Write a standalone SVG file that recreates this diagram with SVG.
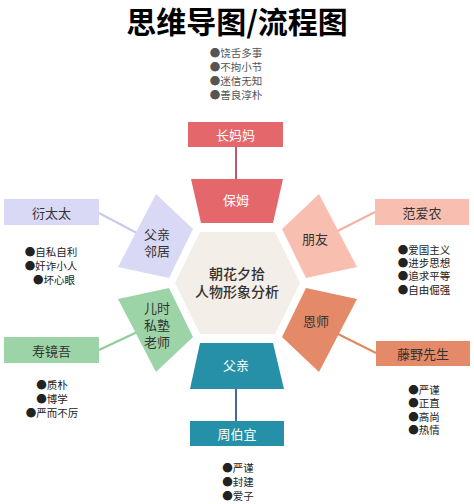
<svg xmlns="http://www.w3.org/2000/svg" width="474" height="504" viewBox="0 0 474 504">
<style>
text{font-family:"Noto Sans CJK SC","Noto Sans",sans-serif;text-anchor:middle;dominant-baseline:central}
.title{font-size:30px;font-weight:700;fill:#000}
.lbl{font-size:13px;fill:#333}
.wl{font-size:13px;fill:#fff}
.ctr{font-size:14px;fill:#333;font-weight:500}
.li{font-size:10.5px;fill:#222}
.lt{font-size:10.5px;fill:#555}
.con{fill:none;stroke-width:2}
</style>
<rect width="474" height="504" fill="#fff"/>
<text class="title" x="237" y="20">思维导图/流程图</text>
<g id="top-list">
<text class="lt" x="236" y="52">●饶舌多事</text>
<text class="lt" x="236" y="66">●不拘小节</text>
<text class="lt" x="236" y="80">●迷信无知</text>
<text class="lt" x="236" y="94">●善良淳朴</text>
</g>
<g id="connectors">
<line class="con" x1="236" y1="147" x2="236" y2="180" stroke="#b85a68"/>
<line class="con" x1="236" y1="388" x2="236" y2="421" stroke="#4c62b4"/>
<line class="con" x1="99" y1="213" x2="150" y2="240" stroke="#c9c9ec"/>
<line class="con" x1="99" y1="350" x2="150" y2="326" stroke="#8fcc9a"/>
<line class="con" x1="375" y1="212" x2="320" y2="240" stroke="#f2b2a2"/>
<line class="con" x1="376" y1="353" x2="320" y2="325" stroke="#e0875f"/>
</g>
<g id="center">
<polygon points="175,283 200,232 275,232 300,283 275,334 200,334" fill="#f3eee7"/>
<text class="ctr" x="237" y="273">朝花夕拾</text>
<text class="ctr" x="237" y="291">人物形象分析</text>
</g>
<g id="baomu">
<polygon points="191,179 283,179 273,223 201,223" fill="#e4686b"/>
<text class="wl" x="236" y="199">保姆</text>
</g>
<g id="fuqin">
<polygon points="200,343 273,343 284,389 190,389" fill="#2590a8"/>
<text class="wl" x="236" y="364">父亲</text>
</g>
<g id="fuqin-linju">
<polygon points="156,194 193,229 169,278 118,267" fill="#d9d9f5"/>
<text class="lbl" x="157" y="233">父亲</text>
<text class="lbl" x="157" y="250">邻居</text>
</g>
<g id="pengyou">
<polygon points="319,194 282,229 306,278 357,267" fill="#f8bfb0"/>
<text class="lbl" x="315" y="238">朋友</text>
</g>
<g id="sishu">
<polygon points="156,372 193,337 169,288 118,299" fill="#9dd4a7"/>
<text class="lbl" x="157" y="307">儿时</text>
<text class="lbl" x="157" y="324">私塾</text>
<text class="lbl" x="157" y="341">老师</text>
</g>
<g id="enshi">
<polygon points="319,372 282,337 306,288 357,299" fill="#e48a68"/>
<text class="lbl" x="316" y="320">恩师</text>
</g>
<g id="changmama">
<rect x="188" y="122" width="95" height="25" fill="#e4686b"/>
<text class="wl" x="235.5" y="134.5">长妈妈</text>
</g>
<g id="zhouboyi">
<rect x="190" y="421" width="94" height="25" fill="#2590a8"/>
<text class="wl" x="237" y="433.5">周伯宜</text>
</g>
<g id="yantaitai">
<rect x="4" y="199" width="95" height="26" fill="#d9d9f5"/>
<text class="lbl" x="51.5" y="212">衍太太</text>
<text class="li" x="51" y="251">●自私自利</text>
<text class="li" x="51" y="265">●奸诈小人</text>
<text class="li" x="54" y="279">●坏心眼</text>
</g>
<g id="shoujingwu">
<rect x="4" y="337" width="95" height="26" fill="#9dd4a7"/>
<text class="lbl" x="51.5" y="350">寿镜吾</text>
<text class="li" x="52" y="384">●质朴</text>
<text class="li" x="52" y="398">●博学</text>
<text class="li" x="52" y="412">●严而不厉</text>
</g>
<g id="fanainong">
<rect x="375" y="199" width="94" height="26" fill="#f8bfb0"/>
<text class="lbl" x="422" y="212">范爱农</text>
<text class="li" x="424" y="249">●爱国主义</text>
<text class="li" x="424" y="262">●进步思想</text>
<text class="li" x="424" y="275">●追求平等</text>
<text class="li" x="424" y="289">●自由倔强</text>
</g>
<g id="tengye">
<rect x="376" y="341" width="94" height="25" fill="#e48a68"/>
<text class="lbl" x="423" y="353.5">藤野先生</text>
<text class="li" x="424" y="389">●严谨</text>
<text class="li" x="424" y="402">●正直</text>
<text class="li" x="424" y="416">●高尚</text>
<text class="li" x="424" y="429">●热情</text>
</g>
<g id="bottom-list">
<text class="li" x="238" y="467">●严谨</text>
<text class="li" x="238" y="481">●封建</text>
<text class="li" x="238" y="495">●爱子</text>
</g>
</svg>
